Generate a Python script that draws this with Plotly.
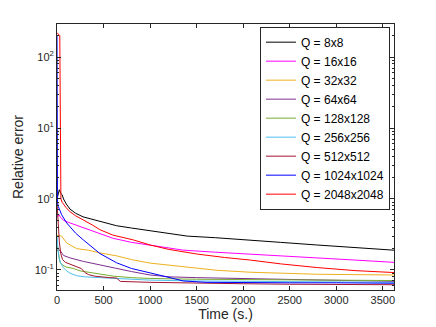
import plotly.graph_objects as go

# ---------------- data ----------------
series_names = ["Q = 8x8", "Q = 16x16", "Q = 32x32", "Q = 64x64", "Q = 128x128",
                "Q = 256x256", "Q = 512x512", "Q = 1024x1024", "Q = 2048x2048"]
series_colors = ["#000000", "#ff00ff", "#edb120", "#7e2f8e", "#77ac30",
                 "#4dbeee", "#a2142f", "#0000ff", "#ff0000"]

t_q8 = [0, 10, 25, 40, 55, 70, 100, 140, 200, 280, 390, 500, 640, 800, 1000, 1200, 1400, 1700, 2075, 2400, 2790, 3200, 3620]
v_q8 = [1.0, 1.15, 1.35, 1.2, 1.15, 1.0, 0.85, 0.72, 0.63, 0.56, 0.51, 0.47, 0.42, 0.39, 0.36, 0.33, 0.30, 0.285, 0.265, 0.245, 0.225, 0.205, 0.19]

t_q16 = [0, 20, 40, 70, 120, 200, 283, 380, 462, 600, 800, 1000, 1200, 1360, 1700, 2075, 2400, 2790, 3200, 3620]
v_q16 = [0.55, 0.6, 0.55, 0.5, 0.47, 0.43, 0.39, 0.35, 0.32, 0.28, 0.245, 0.225, 0.205, 0.19, 0.178, 0.168, 0.16, 0.148, 0.138, 0.128]

t_q32 = [0, 50, 104, 150, 211, 337, 450, 642, 800, 1000, 1200, 1360, 1717, 2075, 2430, 2800, 3200, 3620]
v_q32 = [0.31, 0.30, 0.24, 0.22, 0.20, 0.19, 0.175, 0.158, 0.14, 0.125, 0.117, 0.112, 0.099, 0.093, 0.089, 0.087, 0.086, 0.085]

t_q64 = [0, 32, 70, 140, 283, 460, 642, 800, 1000, 1215, 1500, 1717, 2000, 2500, 2790, 3200, 3620]
v_q64 = [0.19, 0.19, 0.16, 0.148, 0.132, 0.117, 0.105, 0.095, 0.085, 0.08, 0.078, 0.077, 0.075, 0.073, 0.072, 0.070, 0.069]

t_q128 = [0, 10, 30, 60, 100, 175, 250, 460, 600, 800, 1000, 1500, 2000, 2500, 3000, 3620]
v_q128 = [0.22, 0.2, 0.13, 0.117, 0.11, 0.105, 0.097, 0.087, 0.082, 0.078, 0.076, 0.074, 0.073, 0.072, 0.071, 0.071]

t_q256 = [0, 8, 18, 40, 68, 100, 140, 211, 300, 460, 700, 1000, 1500, 2000, 2500, 3000, 3620]
v_q256 = [0.3, 0.2, 0.155, 0.125, 0.108, 0.098, 0.09, 0.083, 0.08, 0.078, 0.075, 0.072, 0.07, 0.069, 0.068, 0.067, 0.067]

t_q512 = [0, 10, 25, 40, 60, 90, 140, 200, 260, 300, 340, 400, 460, 560, 640, 680, 1000, 1500, 2000, 2500, 3000, 3620]
v_q512 = [0.9, 0.5, 0.25, 0.17, 0.14, 0.128, 0.12, 0.112, 0.105, 0.092, 0.086, 0.082, 0.08, 0.078, 0.077, 0.069, 0.067, 0.065, 0.064, 0.063, 0.062, 0.062]

t_q1024 = [0, 5, 15, 50, 104, 200, 283, 380, 462, 642, 800, 1000, 1200, 1360, 1600, 2000, 2500, 3000, 3620]
v_q1024 = [200, 0.9, 0.78, 0.6, 0.46, 0.33, 0.265, 0.21, 0.17, 0.126, 0.105, 0.091, 0.078, 0.07, 0.067, 0.066, 0.066, 0.066, 0.065]

t_q2048 = [0, 30, 42, 55, 100, 140, 200, 280, 380, 460, 600, 820, 1000, 1200, 1500, 1800, 2075, 2400, 2800, 3200, 3620]
v_q2048 = [220, 200, 1.0, 0.9, 0.75, 0.66, 0.58, 0.51, 0.43, 0.37, 0.31, 0.265, 0.225, 0.195, 0.168, 0.15, 0.138, 0.122, 0.108, 0.098, 0.092]

x_tick_vals = [0, 500, 1000, 1500, 2000, 2500, 3000, 3500]
y_tick_vals = [0.1, 1, 10, 100]
y_tick_text = ["10<sup>-1</sup>", "10<sup>0</sup>", "10<sup>1</sup>", "10<sup>2</sup>"]

x_title = "Time (s.)"
y_title = "Relative error"

# ---------------- figure ----------------
all_t = [t_q8, t_q16, t_q32, t_q64, t_q128, t_q256, t_q512, t_q1024, t_q2048]
all_v = [v_q8, v_q16, v_q32, v_q64, v_q128, v_q256, v_q512, v_q1024, v_q2048]

FONT = "Liberation Sans, Arial, Helvetica, sans-serif"
AX = "#262626"

fig = go.Figure()
for name, color, t, v in zip(series_names, series_colors, all_t, all_v):
    fig.add_trace(go.Scatter(x=t, y=v, mode="lines", name=name,
                             line=dict(color=color, width=1)))

# the page body adds an 8 px offset, so the figure is 8 px smaller in each direction
fig.update_layout(
    template="none",
    width=428, height=319, autosize=False,
    margin=dict(l=49, r=42, t=16, b=37, pad=0),
    paper_bgcolor="white", plot_bgcolor="white",
    font=dict(family=FONT, size=11, color=AX),
    showlegend=True,
    legend=dict(x=0.988, y=0.99, xanchor="right", yanchor="top",
                bgcolor="white", bordercolor=AX, borderwidth=1,
                font=dict(family=FONT, size=12, color="black"),
                tracegroupgap=0, itemwidth=30),
)
fig.update_xaxes(
    automargin=False,
    range=[0, 3620], tickmode="array", tickvals=x_tick_vals,
    ticks="inside", ticklen=4, tickcolor=AX, tickwidth=1,
    showline=True, linecolor=AX, linewidth=1, mirror="ticks",
    showgrid=False, zeroline=False,
    tickfont=dict(family=FONT, size=11, color=AX),
    title=dict(text=x_title, font=dict(family=FONT, size=14, color=AX), standoff=3),
)
fig.update_yaxes(
    automargin=False,
    type="log", range=[-1.282, 2.465], tickmode="array",
    tickvals=y_tick_vals, ticktext=y_tick_text,
    ticks="inside", ticklen=4, tickcolor=AX, tickwidth=1,
    minor=dict(ticks="inside", ticklen=2, tickcolor=AX, dtick="D1", showgrid=False),
    showline=True, linecolor=AX, linewidth=1, mirror="ticks",
    showgrid=False, zeroline=False,
    tickfont=dict(family=FONT, size=11, color=AX),
    title=dict(text=y_title, font=dict(family=FONT, size=14, color=AX), standoff=7),
)

fig.write_html("out.html")
